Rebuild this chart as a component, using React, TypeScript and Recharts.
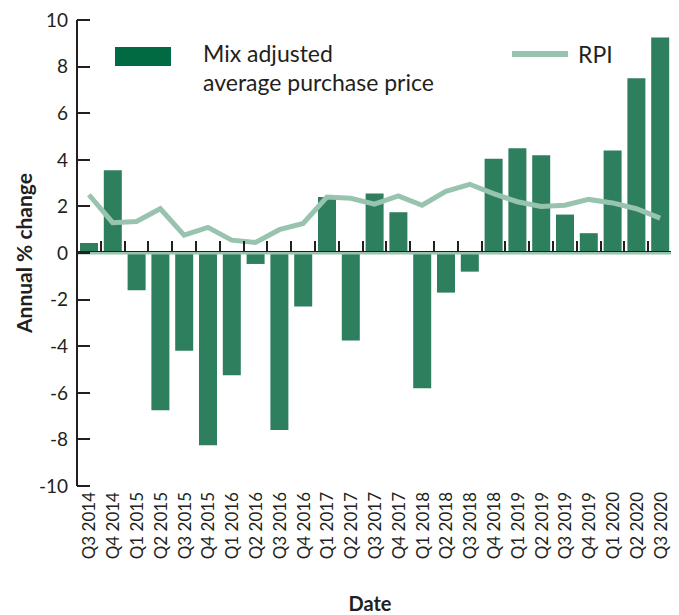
import React from "react";
import {
  ComposedChart,
  Bar,
  Line,
  XAxis,
  YAxis,
  ReferenceLine,
} from "recharts";

const quarters = [
  "Q3 2014", "Q4 2014", "Q1 2015", "Q2 2015", "Q3 2015", "Q4 2015",
  "Q1 2016", "Q2 2016", "Q3 2016", "Q4 2016", "Q1 2017", "Q2 2017",
  "Q3 2017", "Q4 2017", "Q1 2018", "Q2 2018", "Q3 2018", "Q4 2018",
  "Q1 2019", "Q2 2019", "Q3 2019", "Q4 2019", "Q1 2020", "Q2 2020",
  "Q3 2020",
];

const mixPrice = [
  0.43, 3.55, -1.6, -6.75, -4.2, -8.25, -5.25, -0.47, -7.6, -2.3, 2.4, -3.75,
  2.55, 1.75, -5.8, -1.7, -0.8, 4.05, 4.5, 4.2, 1.65, 0.85, 4.4, 7.5, 9.25,
];

const rpi = [
  2.5, 1.3, 1.35, 1.9, 0.77, 1.1, 0.55, 0.45, 1.0, 1.27, 2.4, 2.35, 2.1, 2.45,
  2.05, 2.65, 2.95, 2.55, 2.2, 2.0, 2.05, 2.3, 2.15, 1.9, 1.5,
];

const yTicks = [-10, -8, -6, -4, -2, 0, 2, 4, 6, 8, 10];

const data = quarters.map((q, i) => ({ q, mix: mixPrice[i], rpi: rpi[i] }));

const W = 671;
const H = 607;
const X_AXIS_H = 40;
const M = { top: 12, right: 7, bottom: 129 - X_AXIS_H, left: 9 };
const Y_AXIS_W = 60;
const PLOT_L = M.left + Y_AXIS_W;
const PLOT_W = W - PLOT_L - M.right;
const PLOT_H = H - M.top - M.bottom - X_AXIS_H;
const BAND = PLOT_W / quarters.length;
const ZERO_Y = M.top + PLOT_H / 2;

const FONT = "Lato, 'Open Sans', sans-serif";
const BAR = "#2E7F5E";
const RPI = "#98C4AF";
const INK = "#231F20";

const QuarterTick = (props: any) => {
  const { x, payload } = props;
  const y = M.top + PLOT_H + 6;
  return (
    <text
      x={x}
      y={y}
      transform={`rotate(-90, ${x}, ${y})`}
      textAnchor="end"
      dominantBaseline="central"
      fontSize={17}
      fontFamily={FONT}
      fill={INK}
    >
      {payload.value}
    </text>
  );
};

// inward tick marks, legend and axis titles, laid over the chart svg
const Overlay = () => (
  <svg
    width={W}
    height={H}
    style={{ position: "absolute", left: 0, top: 0, pointerEvents: "none" }}
    fontFamily={FONT}
    fill={INK}
  >
    <rect x={PLOT_L} y={ZERO_Y - 2} width={PLOT_W} height={1} fill={INK} />
    {quarters.map((q, i) => (
      <rect key={q} x={Math.round(PLOT_L + BAND * (i + 1)) - 1} y={ZERO_Y - 12} width={2} height={11} fill={INK} />
    ))}
    {yTicks.map((v) => (
      <rect key={v} x={PLOT_L} y={Math.round(M.top + (PLOT_H * (10 - v)) / 20) - 1} width={13} height={2} fill={INK} />
    ))}
    <rect x={107} y={39} width={56} height={19} fill="#006A42" />
    <text x={195} y={54} fontSize={23}>Mix adjusted</text>
    <text x={195} y={83} fontSize={23}>average purchase price</text>
    <rect x={504} y={43} width={56} height={6} fill={RPI} />
    <text x={570} y={55} fontSize={23}>RPI</text>
    <text
      x={15}
      y={ZERO_Y}
      transform={`rotate(-90, 15, ${ZERO_Y})`}
      textAnchor="middle"
      dominantBaseline="central"
      fontSize={21}
      fontWeight="bold"
    >
      Annual % change
    </text>
    <text x={362} y={595} textAnchor="middle" dominantBaseline="central" fontSize={20} fontWeight="bold">
      Date
    </text>
  </svg>
);

export default function App() {
  return (
    <div style={{ position: "relative", width: W, height: H }}>
      <ComposedChart width={W} height={H} data={data} margin={M}>
        <XAxis
          dataKey="q"
          interval={0}
          axisLine={false}
          tickLine={false}
          tick={<QuarterTick />}
          height={X_AXIS_H}
        />
        <YAxis
          domain={[-10, 10]}
          ticks={yTicks}
          width={Y_AXIS_W}
          tickSize={0}
          tickMargin={9}
          axisLine={{ stroke: INK, strokeWidth: 2 }}
          tickLine={false}
          tick={{ fontSize: 19, fontFamily: FONT, fill: INK }}
          allowDataOverflow
        />
        <ReferenceLine y={0} stroke={RPI} strokeWidth={3} />
        <Bar dataKey="mix" fill={BAR} barSize={18} isAnimationActive={false} />
        <Line
          dataKey="rpi"
          type="linear"
          stroke={RPI}
          strokeWidth={5}
          dot={false}
          activeDot={false}
          isAnimationActive={false}
        />
      </ComposedChart>
      <Overlay />
    </div>
  );
}
